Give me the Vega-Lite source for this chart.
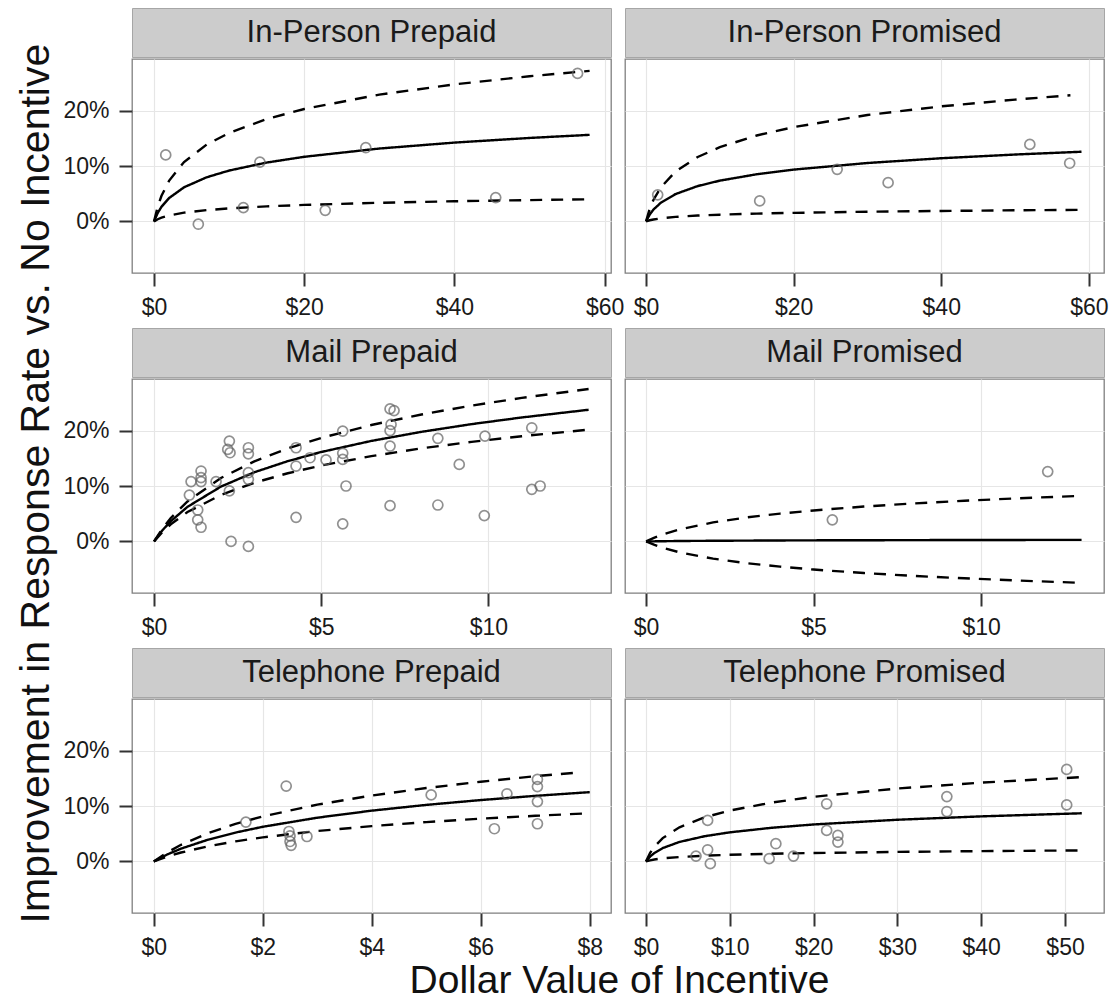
{
"$schema": "https://vega.github.io/schema/vega-lite/v6.json",
"padding": {"left": 16, "top": 7, "right": 5, "bottom": 0},
"background": "white",
"title": {"text": "Dollar Value of Incentive", "orient": "bottom", "anchor": "middle", "fontSize": 39, "fontWeight": "normal", "font": "Liberation Sans", "color": "#111111", "dx": 57, "offset": 2},
"config": {
  "font": "Liberation Sans",
  "view": {"stroke": "#7F7F7F", "strokeWidth": 1.3, "fill": "white"},
  "axis": {"domain": false, "tickColor": "#333333", "tickSize": 13, "tickWidth": 2, "labelFontSize": 23, "labelColor": "#1a1a1a", "labelPadding": 10, "gridWidth": 1.2, "gridColor": "#E6E6E6", "labelFlush": false, "labelOverlap": false, "titleFontWeight": "normal", "titleColor": "#111111"},
  "point": {"shape": "circle", "filled": false, "size": 100, "strokeWidth": 1.7, "color": "#626262"},
  "line": {"color": "black", "strokeWidth": 2.4}
},
"datasets": {
  "pts": [
    {"p":"IPPre","x":1.56,"y":0.120},{"p":"IPPre","x":5.9,"y":-0.005},{"p":"IPPre","x":11.9,"y":0.025},{"p":"IPPre","x":14.1,"y":0.107},{"p":"IPPre","x":22.8,"y":0.020},{"p":"IPPre","x":28.2,"y":0.133},{"p":"IPPre","x":45.5,"y":0.043},{"p":"IPPre","x":56.4,"y":0.267},
    {"p":"IPPro","x":1.58,"y":0.048},{"p":"IPPro","x":15.4,"y":0.037},{"p":"IPPro","x":25.9,"y":0.094},{"p":"IPPro","x":32.8,"y":0.070},{"p":"IPPro","x":52.0,"y":0.139},{"p":"IPPro","x":57.4,"y":0.105},
    {"p":"MPre","x":1.107,"y":0.108},{"p":"MPre","x":1.406,"y":0.127},{"p":"MPre","x":1.406,"y":0.115},{"p":"MPre","x":1.406,"y":0.108},{"p":"MPre","x":1.057,"y":0.0836},{"p":"MPre","x":1.306,"y":0.0567},{"p":"MPre","x":1.306,"y":0.0389},{"p":"MPre","x":1.406,"y":0.0256},{"p":"MPre","x":1.855,"y":0.108},{"p":"MPre","x":2.253,"y":0.181},{"p":"MPre","x":2.204,"y":0.166},{"p":"MPre","x":2.273,"y":0.160},{"p":"MPre","x":2.253,"y":0.0913},{"p":"MPre","x":2.303,"y":0.000},{"p":"MPre","x":2.822,"y":0.169},{"p":"MPre","x":2.822,"y":0.158},{"p":"MPre","x":2.822,"y":0.124},{"p":"MPre","x":2.822,"y":0.112},{"p":"MPre","x":2.822,"y":-0.009},{"p":"MPre","x":4.248,"y":0.169},{"p":"MPre","x":4.248,"y":0.136},{"p":"MPre","x":4.248,"y":0.0435},{"p":"MPre","x":4.667,"y":0.151},{"p":"MPre","x":5.145,"y":0.147},{"p":"MPre","x":5.644,"y":0.199},{"p":"MPre","x":5.644,"y":0.159},{"p":"MPre","x":5.644,"y":0.148},{"p":"MPre","x":5.743,"y":0.100},{"p":"MPre","x":5.644,"y":0.0317},{"p":"MPre","x":7.06,"y":0.239},{"p":"MPre","x":7.18,"y":0.236},{"p":"MPre","x":7.09,"y":0.211},{"p":"MPre","x":7.06,"y":0.200},{"p":"MPre","x":7.06,"y":0.172},{"p":"MPre","x":7.06,"y":0.0645},{"p":"MPre","x":8.49,"y":0.186},{"p":"MPre","x":8.49,"y":0.0657},{"p":"MPre","x":9.13,"y":0.139},{"p":"MPre","x":9.90,"y":0.190},{"p":"MPre","x":9.88,"y":0.0466},{"p":"MPre","x":11.30,"y":0.205},{"p":"MPre","x":11.30,"y":0.094},{"p":"MPre","x":11.55,"y":0.100},
    {"p":"MPro","x":5.56,"y":0.039},{"p":"MPro","x":11.99,"y":0.126},
    {"p":"TPre","x":1.69,"y":0.071},{"p":"TPre","x":2.43,"y":0.136},{"p":"TPre","x":2.48,"y":0.054},{"p":"TPre","x":2.5,"y":0.046},{"p":"TPre","x":2.5,"y":0.036},{"p":"TPre","x":2.52,"y":0.029},{"p":"TPre","x":2.81,"y":0.045},{"p":"TPre","x":5.09,"y":0.120},{"p":"TPre","x":6.25,"y":0.059},{"p":"TPre","x":6.48,"y":0.122},{"p":"TPre","x":7.04,"y":0.148},{"p":"TPre","x":7.04,"y":0.135},{"p":"TPre","x":7.04,"y":0.108},{"p":"TPre","x":7.04,"y":0.068},
    {"p":"TPro","x":5.97,"y":0.0097},{"p":"TPro","x":7.36,"y":0.074},{"p":"TPro","x":7.36,"y":0.021},{"p":"TPro","x":7.68,"y":-0.004},{"p":"TPro","x":14.7,"y":0.005},{"p":"TPro","x":15.5,"y":0.032},{"p":"TPro","x":17.6,"y":0.0097},{"p":"TPro","x":21.56,"y":0.104},{"p":"TPro","x":21.56,"y":0.056},{"p":"TPro","x":22.9,"y":0.047},{"p":"TPro","x":22.9,"y":0.035},{"p":"TPro","x":35.9,"y":0.117},{"p":"TPro","x":35.9,"y":0.090},{"p":"TPro","x":50.2,"y":0.166},{"p":"TPro","x":50.2,"y":0.102}
  ],
  "curves": [
    {"p":"IPPre","b":"fit","x":0,"y":0},{"p":"IPPre","b":"fit","x":0.5,"y":0.0155},{"p":"IPPre","b":"fit","x":1,"y":0.0265},{"p":"IPPre","b":"fit","x":2,"y":0.0421},{"p":"IPPre","b":"fit","x":4,"y":0.0616},{"p":"IPPre","b":"fit","x":7,"y":0.0796},{"p":"IPPre","b":"fit","x":10,"y":0.0918},{"p":"IPPre","b":"fit","x":15,"y":0.1062},{"p":"IPPre","b":"fit","x":20,"y":0.1166},{"p":"IPPre","b":"fit","x":30,"y":0.1315},{"p":"IPPre","b":"fit","x":40,"y":0.1422},{"p":"IPPre","b":"fit","x":50,"y":0.1506},{"p":"IPPre","b":"fit","x":58,"y":0.1562},
    {"p":"IPPre","b":"upper","x":0,"y":0},{"p":"IPPre","b":"upper","x":0.5,"y":0.0270},{"p":"IPPre","b":"upper","x":1,"y":0.0462},{"p":"IPPre","b":"upper","x":2,"y":0.0732},{"p":"IPPre","b":"upper","x":4,"y":0.1072},{"p":"IPPre","b":"upper","x":7,"y":0.1385},{"p":"IPPre","b":"upper","x":10,"y":0.1597},{"p":"IPPre","b":"upper","x":15,"y":0.1847},{"p":"IPPre","b":"upper","x":20,"y":0.2028},{"p":"IPPre","b":"upper","x":30,"y":0.2287},{"p":"IPPre","b":"upper","x":40,"y":0.2473},{"p":"IPPre","b":"upper","x":50,"y":0.2619},{"p":"IPPre","b":"upper","x":58,"y":0.2716},
    {"p":"IPPre","b":"lower","x":0,"y":0},{"p":"IPPre","b":"lower","x":0.5,"y":0.0040},{"p":"IPPre","b":"lower","x":1,"y":0.0068},{"p":"IPPre","b":"lower","x":2,"y":0.0108},{"p":"IPPre","b":"lower","x":4,"y":0.0158},{"p":"IPPre","b":"lower","x":7,"y":0.0204},{"p":"IPPre","b":"lower","x":10,"y":0.0235},{"p":"IPPre","b":"lower","x":15,"y":0.0272},{"p":"IPPre","b":"lower","x":20,"y":0.0298},{"p":"IPPre","b":"lower","x":30,"y":0.0337},{"p":"IPPre","b":"lower","x":40,"y":0.0364},{"p":"IPPre","b":"lower","x":50,"y":0.0385},{"p":"IPPre","b":"lower","x":58,"y":0.0400},
    {"p":"IPPro","b":"fit","x":0,"y":0},{"p":"IPPro","b":"fit","x":0.5,"y":0.0124},{"p":"IPPro","b":"fit","x":1,"y":0.0213},{"p":"IPPro","b":"fit","x":2,"y":0.0337},{"p":"IPPro","b":"fit","x":4,"y":0.0494},{"p":"IPPro","b":"fit","x":7,"y":0.0638},{"p":"IPPro","b":"fit","x":10,"y":0.0736},{"p":"IPPro","b":"fit","x":15,"y":0.0851},{"p":"IPPro","b":"fit","x":20,"y":0.0935},{"p":"IPPro","b":"fit","x":30,"y":0.1054},{"p":"IPPro","b":"fit","x":40,"y":0.1140},{"p":"IPPro","b":"fit","x":50,"y":0.1207},{"p":"IPPro","b":"fit","x":59,"y":0.1257},
    {"p":"IPPro","b":"upper","x":0,"y":0},{"p":"IPPro","b":"upper","x":0.5,"y":0.0227},{"p":"IPPro","b":"upper","x":1,"y":0.0387},{"p":"IPPro","b":"upper","x":2,"y":0.0614},{"p":"IPPro","b":"upper","x":4,"y":0.0900},{"p":"IPPro","b":"upper","x":7,"y":0.1162},{"p":"IPPro","b":"upper","x":10,"y":0.1340},{"p":"IPPro","b":"upper","x":15,"y":0.1550},{"p":"IPPro","b":"upper","x":20,"y":0.1702},{"p":"IPPro","b":"upper","x":30,"y":0.1920},{"p":"IPPro","b":"upper","x":40,"y":0.2076},{"p":"IPPro","b":"upper","x":50,"y":0.2198},{"p":"IPPro","b":"upper","x":57.5,"y":0.2275},
    {"p":"IPPro","b":"lower","x":0,"y":0},{"p":"IPPro","b":"lower","x":0.5,"y":0.0021},{"p":"IPPro","b":"lower","x":1,"y":0.0035},{"p":"IPPro","b":"lower","x":2,"y":0.0056},{"p":"IPPro","b":"lower","x":4,"y":0.0082},{"p":"IPPro","b":"lower","x":7,"y":0.0106},{"p":"IPPro","b":"lower","x":10,"y":0.0122},{"p":"IPPro","b":"lower","x":15,"y":0.0141},{"p":"IPPro","b":"lower","x":20,"y":0.0155},{"p":"IPPro","b":"lower","x":30,"y":0.0175},{"p":"IPPro","b":"lower","x":40,"y":0.0189},{"p":"IPPro","b":"lower","x":50,"y":0.0201},{"p":"IPPro","b":"lower","x":59,"y":0.0209},
    {"p":"MPre","b":"fit","x":0,"y":0},{"p":"MPre","b":"fit","x":0.25,"y":0.0201},{"p":"MPre","b":"fit","x":0.5,"y":0.0365},{"p":"MPre","b":"fit","x":1,"y":0.0624},{"p":"MPre","b":"fit","x":2,"y":0.0989},{"p":"MPre","b":"fit","x":3,"y":0.1248},{"p":"MPre","b":"fit","x":4,"y":0.1448},{"p":"MPre","b":"fit","x":5,"y":0.1613},{"p":"MPre","b":"fit","x":6.5,"y":0.1813},{"p":"MPre","b":"fit","x":8,"y":0.1977},{"p":"MPre","b":"fit","x":9.5,"y":0.2116},{"p":"MPre","b":"fit","x":11,"y":0.2236},{"p":"MPre","b":"fit","x":13,"y":0.2375},
    {"p":"MPre","b":"upper","x":0,"y":0},{"p":"MPre","b":"upper","x":0.25,"y":0.0232},{"p":"MPre","b":"upper","x":0.5,"y":0.0423},{"p":"MPre","b":"upper","x":1,"y":0.0722},{"p":"MPre","b":"upper","x":2,"y":0.1145},{"p":"MPre","b":"upper","x":3,"y":0.1445},{"p":"MPre","b":"upper","x":4,"y":0.1677},{"p":"MPre","b":"upper","x":5,"y":0.1867},{"p":"MPre","b":"upper","x":6.5,"y":0.2100},{"p":"MPre","b":"upper","x":8,"y":0.2290},{"p":"MPre","b":"upper","x":9.5,"y":0.2450},{"p":"MPre","b":"upper","x":11,"y":0.2589},{"p":"MPre","b":"upper","x":13,"y":0.2750},
    {"p":"MPre","b":"lower","x":0,"y":0},{"p":"MPre","b":"lower","x":0.25,"y":0.0170},{"p":"MPre","b":"lower","x":0.5,"y":0.0310},{"p":"MPre","b":"lower","x":1,"y":0.0530},{"p":"MPre","b":"lower","x":2,"y":0.0839},{"p":"MPre","b":"lower","x":3,"y":0.1059},{"p":"MPre","b":"lower","x":4,"y":0.1230},{"p":"MPre","b":"lower","x":5,"y":0.1369},{"p":"MPre","b":"lower","x":6.5,"y":0.1539},{"p":"MPre","b":"lower","x":8,"y":0.1679},{"p":"MPre","b":"lower","x":9.5,"y":0.1796},{"p":"MPre","b":"lower","x":11,"y":0.1898},{"p":"MPre","b":"lower","x":13,"y":0.2016},
    {"p":"MPro","b":"fit","x":0,"y":0},{"p":"MPro","b":"fit","x":0.25,"y":0.0002},{"p":"MPro","b":"fit","x":0.5,"y":0.0004},{"p":"MPro","b":"fit","x":1,"y":0.0008},{"p":"MPro","b":"fit","x":2,"y":0.0012},{"p":"MPro","b":"fit","x":3,"y":0.0015},{"p":"MPro","b":"fit","x":4,"y":0.0018},{"p":"MPro","b":"fit","x":5,"y":0.0020},{"p":"MPro","b":"fit","x":6.5,"y":0.0022},{"p":"MPro","b":"fit","x":8,"y":0.0024},{"p":"MPro","b":"fit","x":9.5,"y":0.0026},{"p":"MPro","b":"fit","x":11,"y":0.0027},{"p":"MPro","b":"fit","x":13,"y":0.0029},
    {"p":"MPro","b":"upper","x":0,"y":0},{"p":"MPro","b":"upper","x":0.25,"y":0.0070},{"p":"MPro","b":"upper","x":0.5,"y":0.0127},{"p":"MPro","b":"upper","x":1,"y":0.0216},{"p":"MPro","b":"upper","x":2,"y":0.0343},{"p":"MPro","b":"upper","x":3,"y":0.0433},{"p":"MPro","b":"upper","x":4,"y":0.0502},{"p":"MPro","b":"upper","x":5,"y":0.0559},{"p":"MPro","b":"upper","x":6.5,"y":0.0629},{"p":"MPro","b":"upper","x":8,"y":0.0686},{"p":"MPro","b":"upper","x":9.5,"y":0.0734},{"p":"MPro","b":"upper","x":11,"y":0.0775},{"p":"MPro","b":"upper","x":13,"y":0.0823},
    {"p":"MPro","b":"lower","x":0,"y":0},{"p":"MPro","b":"lower","x":0.25,"y":-0.0063},{"p":"MPro","b":"lower","x":0.5,"y":-0.0115},{"p":"MPro","b":"lower","x":1,"y":-0.0196},{"p":"MPro","b":"lower","x":2,"y":-0.0311},{"p":"MPro","b":"lower","x":3,"y":-0.0392},{"p":"MPro","b":"lower","x":4,"y":-0.0455},{"p":"MPro","b":"lower","x":5,"y":-0.0507},{"p":"MPro","b":"lower","x":6.5,"y":-0.0570},{"p":"MPro","b":"lower","x":8,"y":-0.0622},{"p":"MPro","b":"lower","x":9.5,"y":-0.0665},{"p":"MPro","b":"lower","x":11,"y":-0.0703},{"p":"MPro","b":"lower","x":13,"y":-0.0747},
    {"p":"TPre","b":"fit","x":0,"y":0},{"p":"TPre","b":"fit","x":0.25,"y":0.0127},{"p":"TPre","b":"fit","x":0.5,"y":0.0231},{"p":"TPre","b":"fit","x":1,"y":0.0394},{"p":"TPre","b":"fit","x":1.5,"y":0.0521},{"p":"TPre","b":"fit","x":2,"y":0.0625},{"p":"TPre","b":"fit","x":3,"y":0.0789},{"p":"TPre","b":"fit","x":4,"y":0.0916},{"p":"TPre","b":"fit","x":5,"y":0.1020},{"p":"TPre","b":"fit","x":6,"y":0.1107},{"p":"TPre","b":"fit","x":7,"y":0.1183},{"p":"TPre","b":"fit","x":8,"y":0.1250},
    {"p":"TPre","b":"upper","x":0,"y":0},{"p":"TPre","b":"upper","x":0.25,"y":0.0165},{"p":"TPre","b":"upper","x":0.5,"y":0.0300},{"p":"TPre","b":"upper","x":1,"y":0.0512},{"p":"TPre","b":"upper","x":1.5,"y":0.0677},{"p":"TPre","b":"upper","x":2,"y":0.0812},{"p":"TPre","b":"upper","x":3,"y":0.1024},{"p":"TPre","b":"upper","x":4,"y":0.1189},{"p":"TPre","b":"upper","x":5,"y":0.1324},{"p":"TPre","b":"upper","x":6,"y":0.1438},{"p":"TPre","b":"upper","x":7,"y":0.1537},{"p":"TPre","b":"upper","x":7.85,"y":0.1610},
    {"p":"TPre","b":"lower","x":0,"y":0},{"p":"TPre","b":"lower","x":0.25,"y":0.0088},{"p":"TPre","b":"lower","x":0.5,"y":0.0161},{"p":"TPre","b":"lower","x":1,"y":0.0274},{"p":"TPre","b":"lower","x":1.5,"y":0.0363},{"p":"TPre","b":"lower","x":2,"y":0.0435},{"p":"TPre","b":"lower","x":3,"y":0.0549},{"p":"TPre","b":"lower","x":4,"y":0.0637},{"p":"TPre","b":"lower","x":5,"y":0.0710},{"p":"TPre","b":"lower","x":6,"y":0.0771},{"p":"TPre","b":"lower","x":7,"y":0.0823},{"p":"TPre","b":"lower","x":8,"y":0.0870},
    {"p":"TPro","b":"fit","x":0,"y":0},{"p":"TPro","b":"fit","x":0.5,"y":0.0089},{"p":"TPro","b":"fit","x":1,"y":0.0152},{"p":"TPro","b":"fit","x":2,"y":0.0241},{"p":"TPro","b":"fit","x":4,"y":0.0352},{"p":"TPro","b":"fit","x":7,"y":0.0455},{"p":"TPro","b":"fit","x":10,"y":0.0525},{"p":"TPro","b":"fit","x":15,"y":0.0607},{"p":"TPro","b":"fit","x":20,"y":0.0667},{"p":"TPro","b":"fit","x":30,"y":0.0752},{"p":"TPro","b":"fit","x":40,"y":0.0813},{"p":"TPro","b":"fit","x":52,"y":0.0869},
    {"p":"TPro","b":"upper","x":0,"y":0},{"p":"TPro","b":"upper","x":0.5,"y":0.0155},{"p":"TPro","b":"upper","x":1,"y":0.0265},{"p":"TPro","b":"upper","x":2,"y":0.0421},{"p":"TPro","b":"upper","x":4,"y":0.0616},{"p":"TPro","b":"upper","x":7,"y":0.0796},{"p":"TPro","b":"upper","x":10,"y":0.0918},{"p":"TPro","b":"upper","x":15,"y":0.1062},{"p":"TPro","b":"upper","x":20,"y":0.1166},{"p":"TPro","b":"upper","x":30,"y":0.1315},{"p":"TPro","b":"upper","x":40,"y":0.1422},{"p":"TPro","b":"upper","x":52,"y":0.1521},
    {"p":"TPro","b":"lower","x":0,"y":0},{"p":"TPro","b":"lower","x":0.5,"y":0.0020},{"p":"TPro","b":"lower","x":1,"y":0.0035},{"p":"TPro","b":"lower","x":2,"y":0.0055},{"p":"TPro","b":"lower","x":4,"y":0.0080},{"p":"TPro","b":"lower","x":7,"y":0.0104},{"p":"TPro","b":"lower","x":10,"y":0.0120},{"p":"TPro","b":"lower","x":15,"y":0.0139},{"p":"TPro","b":"lower","x":20,"y":0.0152},{"p":"TPro","b":"lower","x":30,"y":0.0172},{"p":"TPro","b":"lower","x":40,"y":0.0186},{"p":"TPro","b":"lower","x":52,"y":0.0199}
  ]
},
"vconcat": [
{
"title": {"text": "Improvement in Response Rate vs. No Incentive", "orient": "left", "anchor": "middle", "fontSize": 41, "fontWeight": "normal", "font": "Liberation Sans", "color": "#111111", "offset": 4},
"columns": 2,
"align": "each",
"spacing": {"row": 0, "column": -2},
"concat": [
 {"width": 479, "height": 49, "view": {"fill": "#CCCCCC", "stroke": "#A6A6A6"}, "data": {"values": [{"t": "In-Person Prepaid"}]}, "mark": {"type": "text", "fontSize": 31, "color": "#1a1a1a"}, "encoding": {"text": {"field": "t"}}},
 {"width": 479, "height": 49, "view": {"fill": "#CCCCCC", "stroke": "#A6A6A6"}, "data": {"values": [{"t": "In-Person Promised"}]}, "mark": {"type": "text", "fontSize": 31, "color": "#1a1a1a"}, "encoding": {"text": {"field": "t"}}},
 {"width": 479, "height": 214, "resolve": {"axis": {"x": "independent", "y": "independent"}}, "layer": [
  {"data": {"name": "curves"}, "transform": [{"filter": "datum.p == 'IPPre'"}], "mark": "line",
   "encoding": {
    "x": {"field": "x", "type": "quantitative", "scale": {"domain": [-2.93, 60.85], "nice": false, "zero": false}, "axis": {"title": " ", "titleFontSize": 1, "titlePadding": 6, "values": [0,20,40,60], "labelExpr": "'$' + datum.label"}},
    "y": {"field": "y", "type": "quantitative", "scale": {"domain": [-0.093, 0.293], "nice": false, "zero": false}, "axis": {"title": null, "values": [0,0.1,0.2], "format": ".0%"}},
    "strokeDash": {"field": "b", "type": "nominal", "scale": {"domain": ["fit", "upper", "lower"], "range": [[1, 0], [12, 9], [12, 9]]}, "legend": null}}},
  {"data": {"name": "pts"}, "transform": [{"filter": "datum.p == 'IPPre'"}], "mark": "point",
   "encoding": {"x": {"field": "x", "type": "quantitative", "axis": {"orient": "bottom", "title": null, "values": [10,30,50], "labels": false, "ticks": false, "gridColor": "#F3F3F3"}}, "y": {"field": "y", "type": "quantitative", "axis": {"orient": "left", "title": null, "values": [-0.05,0.05,0.15,0.25], "labels": false, "ticks": false, "gridColor": "#F3F3F3"}}}}
 ]},
 {"width": 479, "height": 214, "resolve": {"axis": {"x": "independent", "y": "independent"}}, "layer": [
  {"data": {"name": "curves"}, "transform": [{"filter": "datum.p == 'IPPro'"}], "mark": "line",
   "encoding": {
    "x": {"field": "x", "type": "quantitative", "scale": {"domain": [-2.85, 62.05], "nice": false, "zero": false}, "axis": {"title": " ", "titleFontSize": 1, "titlePadding": 6, "values": [0,20,40,60], "labelExpr": "'$' + datum.label"}},
    "y": {"field": "y", "type": "quantitative", "scale": {"domain": [-0.093, 0.293], "nice": false, "zero": false}, "axis": {"title": null, "values": [0,0.1,0.2], "labels": false, "ticks": false}},
    "strokeDash": {"field": "b", "type": "nominal", "scale": {"domain": ["fit", "upper", "lower"], "range": [[1, 0], [12, 9], [12, 9]]}, "legend": null}}},
  {"data": {"name": "pts"}, "transform": [{"filter": "datum.p == 'IPPro'"}], "mark": "point",
   "encoding": {"x": {"field": "x", "type": "quantitative", "axis": {"orient": "bottom", "title": null, "values": [10,30,50], "labels": false, "ticks": false, "gridColor": "#F3F3F3"}}, "y": {"field": "y", "type": "quantitative", "axis": {"orient": "left", "title": null, "values": [-0.05,0.05,0.15,0.25], "labels": false, "ticks": false, "gridColor": "#F3F3F3"}}}}
 ]},
 {"width": 479, "height": 49, "view": {"fill": "#CCCCCC", "stroke": "#A6A6A6"}, "data": {"values": [{"t": "Mail Prepaid"}]}, "mark": {"type": "text", "fontSize": 31, "color": "#1a1a1a"}, "encoding": {"text": {"field": "t"}}},
 {"width": 479, "height": 49, "view": {"fill": "#CCCCCC", "stroke": "#A6A6A6"}, "data": {"values": [{"t": "Mail Promised"}]}, "mark": {"type": "text", "fontSize": 31, "color": "#1a1a1a"}, "encoding": {"text": {"field": "t"}}},
 {"width": 479, "height": 214, "resolve": {"axis": {"x": "independent", "y": "independent"}}, "layer": [
  {"data": {"name": "curves"}, "transform": [{"filter": "datum.p == 'MPre'"}], "mark": "line",
   "encoding": {
    "x": {"field": "x", "type": "quantitative", "scale": {"domain": [-0.66, 13.67], "nice": false, "zero": false}, "axis": {"title": " ", "titleFontSize": 1, "titlePadding": 6, "values": [0,5,10], "labelExpr": "'$' + datum.label"}},
    "y": {"field": "y", "type": "quantitative", "scale": {"domain": [-0.093, 0.293], "nice": false, "zero": false}, "axis": {"title": null, "values": [0,0.1,0.2], "format": ".0%"}},
    "strokeDash": {"field": "b", "type": "nominal", "scale": {"domain": ["fit", "upper", "lower"], "range": [[1, 0], [12, 9], [12, 9]]}, "legend": null}}},
  {"data": {"name": "pts"}, "transform": [{"filter": "datum.p == 'MPre'"}], "mark": "point",
   "encoding": {"x": {"field": "x", "type": "quantitative", "axis": {"orient": "bottom", "title": null, "values": [2.5,7.5,12.5], "labels": false, "ticks": false, "gridColor": "#F3F3F3"}}, "y": {"field": "y", "type": "quantitative", "axis": {"orient": "left", "title": null, "values": [-0.05,0.05,0.15,0.25], "labels": false, "ticks": false, "gridColor": "#F3F3F3"}}}}
 ]},
 {"width": 479, "height": 214, "resolve": {"axis": {"x": "independent", "y": "independent"}}, "layer": [
  {"data": {"name": "curves"}, "transform": [{"filter": "datum.p == 'MPro'"}], "mark": "line",
   "encoding": {
    "x": {"field": "x", "type": "quantitative", "scale": {"domain": [-0.63, 13.67], "nice": false, "zero": false}, "axis": {"title": " ", "titleFontSize": 1, "titlePadding": 6, "values": [0,5,10], "labelExpr": "'$' + datum.label"}},
    "y": {"field": "y", "type": "quantitative", "scale": {"domain": [-0.093, 0.293], "nice": false, "zero": false}, "axis": {"title": null, "values": [0,0.1,0.2], "labels": false, "ticks": false}},
    "strokeDash": {"field": "b", "type": "nominal", "scale": {"domain": ["fit", "upper", "lower"], "range": [[1, 0], [12, 9], [12, 9]]}, "legend": null}}},
  {"data": {"name": "pts"}, "transform": [{"filter": "datum.p == 'MPro'"}], "mark": "point",
   "encoding": {"x": {"field": "x", "type": "quantitative", "axis": {"orient": "bottom", "title": null, "values": [2.5,7.5,12.5], "labels": false, "ticks": false, "gridColor": "#F3F3F3"}}, "y": {"field": "y", "type": "quantitative", "axis": {"orient": "left", "title": null, "values": [-0.05,0.05,0.15,0.25], "labels": false, "ticks": false, "gridColor": "#F3F3F3"}}}}
 ]},
 {"width": 479, "height": 49, "view": {"fill": "#CCCCCC", "stroke": "#A6A6A6"}, "data": {"values": [{"t": "Telephone Prepaid"}]}, "mark": {"type": "text", "fontSize": 31, "color": "#1a1a1a"}, "encoding": {"text": {"field": "t"}}},
 {"width": 479, "height": 49, "view": {"fill": "#CCCCCC", "stroke": "#A6A6A6"}, "data": {"values": [{"t": "Telephone Promised"}]}, "mark": {"type": "text", "fontSize": 31, "color": "#1a1a1a"}, "encoding": {"text": {"field": "t"}}},
 {"width": 479, "height": 214, "resolve": {"axis": {"x": "independent", "y": "independent"}}, "layer": [
  {"data": {"name": "curves"}, "transform": [{"filter": "datum.p == 'TPre'"}], "mark": "line",
   "encoding": {
    "x": {"field": "x", "type": "quantitative", "scale": {"domain": [-0.40, 8.39], "nice": false, "zero": false}, "axis": {"title": null, "values": [0,2,4,6,8], "labelExpr": "'$' + datum.label"}},
    "y": {"field": "y", "type": "quantitative", "scale": {"domain": [-0.093, 0.293], "nice": false, "zero": false}, "axis": {"title": null, "values": [0,0.1,0.2], "format": ".0%"}},
    "strokeDash": {"field": "b", "type": "nominal", "scale": {"domain": ["fit", "upper", "lower"], "range": [[1, 0], [12, 9], [12, 9]]}, "legend": null}}},
  {"data": {"name": "pts"}, "transform": [{"filter": "datum.p == 'TPre'"}], "mark": "point",
   "encoding": {"x": {"field": "x", "type": "quantitative", "axis": {"orient": "bottom", "title": null, "values": [1,3,5,7], "labels": false, "ticks": false, "gridColor": "#F3F3F3"}}, "y": {"field": "y", "type": "quantitative", "axis": {"orient": "left", "title": null, "values": [-0.05,0.05,0.15,0.25], "labels": false, "ticks": false, "gridColor": "#F3F3F3"}}}}
 ]},
 {"width": 479, "height": 214, "resolve": {"axis": {"x": "independent", "y": "independent"}}, "layer": [
  {"data": {"name": "curves"}, "transform": [{"filter": "datum.p == 'TPro'"}], "mark": "line",
   "encoding": {
    "x": {"field": "x", "type": "quantitative", "scale": {"domain": [-2.5, 54.65], "nice": false, "zero": false}, "axis": {"title": null, "values": [0,10,20,30,40,50], "labelExpr": "'$' + datum.label"}},
    "y": {"field": "y", "type": "quantitative", "scale": {"domain": [-0.093, 0.293], "nice": false, "zero": false}, "axis": {"title": null, "values": [0,0.1,0.2], "labels": false, "ticks": false}},
    "strokeDash": {"field": "b", "type": "nominal", "scale": {"domain": ["fit", "upper", "lower"], "range": [[1, 0], [12, 9], [12, 9]]}, "legend": null}}},
  {"data": {"name": "pts"}, "transform": [{"filter": "datum.p == 'TPro'"}], "mark": "point",
   "encoding": {"x": {"field": "x", "type": "quantitative", "axis": {"orient": "bottom", "title": null, "values": [5,15,25,35,45], "labels": false, "ticks": false, "gridColor": "#F3F3F3"}}, "y": {"field": "y", "type": "quantitative", "axis": {"orient": "left", "title": null, "values": [-0.05,0.05,0.15,0.25], "labels": false, "ticks": false, "gridColor": "#F3F3F3"}}}}
 ]}
]
}
]
}
